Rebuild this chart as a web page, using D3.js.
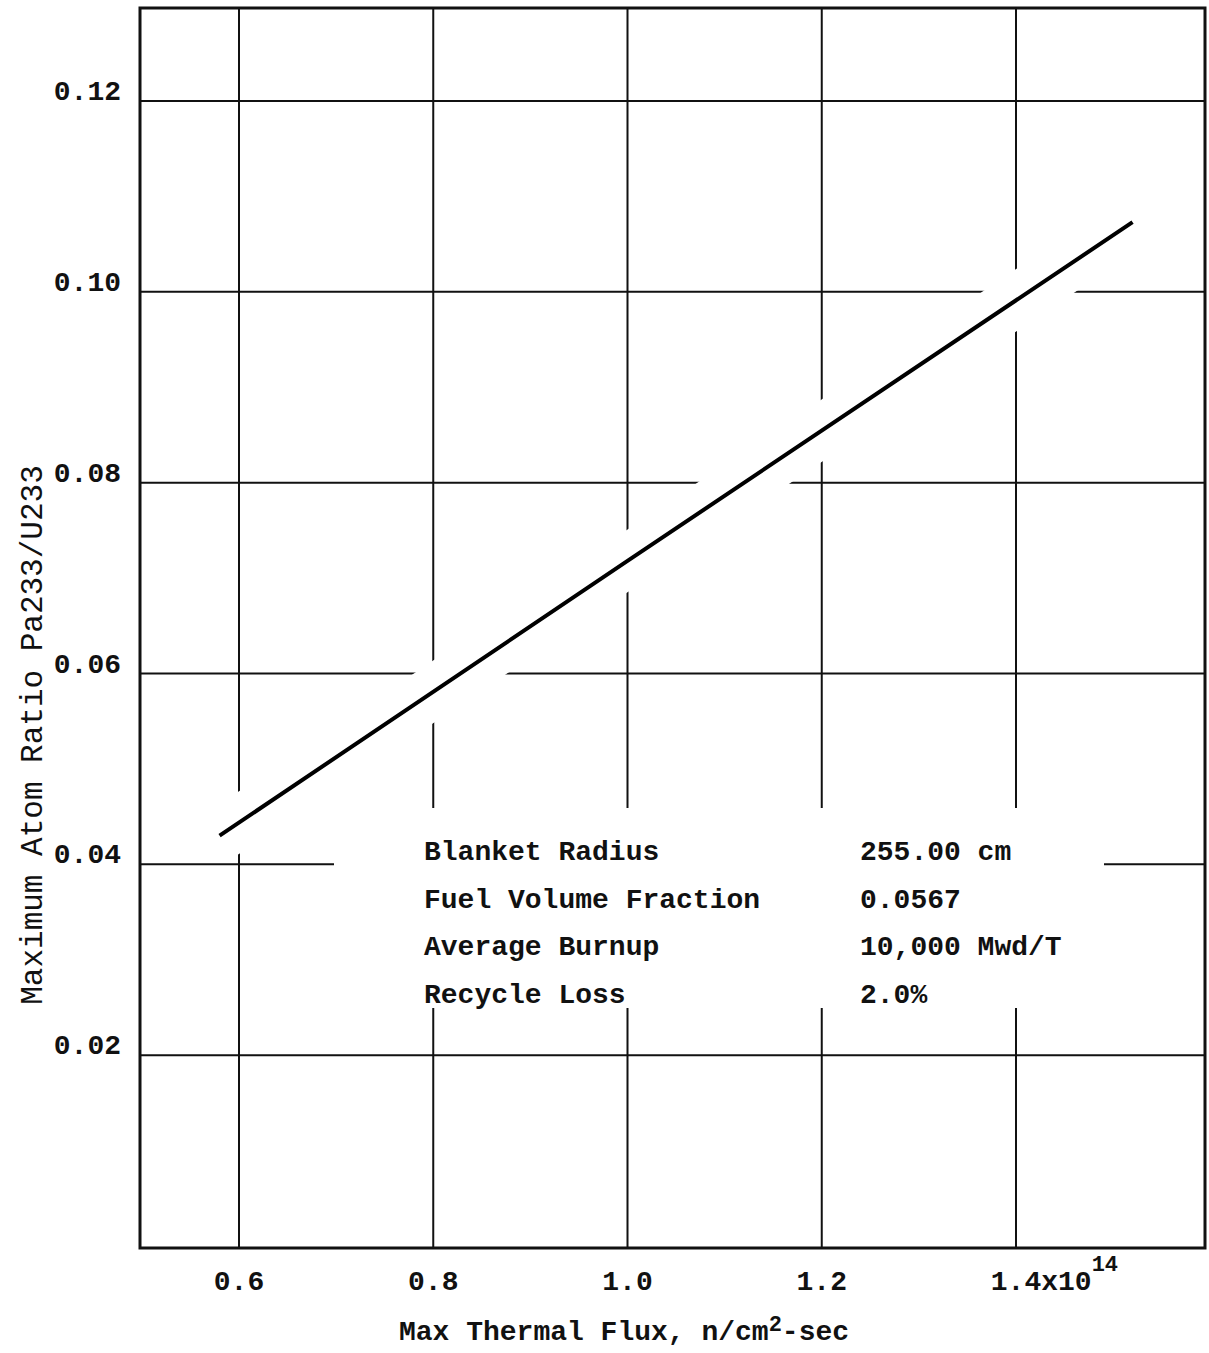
<!DOCTYPE html>
<html>
<head>
<meta charset="utf-8">
<script src="https://cdn.jsdelivr.net/npm/d3@7"></script>
<style>
  body { margin: 0; background: #fff; }
  text { font-family: "Liberation Mono", "DejaVu Sans Mono", monospace; fill: #111; }
</style>
</head>
<body>
<div id="chart"></div>
<script>
// chart data
var fluxValues = [0.58, 1.0, 1.52];          // x 10^14 n/cm2-sec
var ratioValues = [0.0430, 0.0718, 0.1073];  // Pa233/U233
var xTicks = [0.6, 0.8, 1.0, 1.2, 1.4];
var xTickLabels = ["0.6", "0.8", "1.0", "1.2", "1.4"];
var yTicks = [0.02, 0.04, 0.06, 0.08, 0.10, 0.12];
var yTickLabels = ["0.02", "0.04", "0.06", "0.08", "0.10", "0.12"];
var noteNames = ["Blanket Radius", "Fuel Volume Fraction", "Average Burnup", "Recycle Loss"];
var noteValues = ["255.00 cm", "0.0567", "10,000 Mwd/T", "2.0%"];

var width = 1209,
    height = 1353;

var svg = d3.select("#chart")
  .append("svg")
  .attr("width", width)
  .attr("height", height);

var x = d3.scaleLinear().domain([0.6, 1.4]).range([239, 1016]);
var y = d3.scaleLinear().domain([0, 0.12]).range([1246, 101]);

var xMin = x.invert(140), xMax = x.invert(1205),
    yMin = y.invert(1248), yMax = y.invert(8);

// grid lines
var grid = svg.append("g").attr("class", "grid");
grid.selectAll("line.v")
  .data(xTicks).enter()
  .append("line")
  .attr("x1", function(d) { return x(d); })
  .attr("x2", function(d) { return x(d); })
  .attr("y1", y(yMin))
  .attr("y2", y(yMax))
  .attr("stroke", "#111")
  .attr("stroke-width", 2);
grid.selectAll("line.h")
  .data(yTicks).enter()
  .append("line")
  .attr("x1", x(xMin))
  .attr("x2", x(xMax))
  .attr("y1", function(d) { return y(d); })
  .attr("y2", function(d) { return y(d); })
  .attr("stroke", "#111")
  .attr("stroke-width", 2);

var line = d3.line()
  .x(function(d, i) { return x(fluxValues[i]); })
  .y(function(d, i) { return y(ratioValues[i]); });

// white gaps where the curve and the note cross the grid
svg.append("path")
  .datum(ratioValues)
  .attr("d", line)
  .attr("fill", "none")
  .attr("stroke", "#fff")
  .attr("stroke-width", 52)
  .attr("stroke-linecap", "round");

svg.append("rect")
  .attr("x", 334)
  .attr("y", 808)
  .attr("width", 770)
  .attr("height", 200)
  .attr("fill", "#fff");

// frame
svg.append("rect")
  .attr("x", x(xMin))
  .attr("y", y(yMax))
  .attr("width", x(xMax) - x(xMin))
  .attr("height", y(yMin) - y(yMax))
  .attr("fill", "none")
  .attr("stroke", "#111")
  .attr("stroke-width", 3);

// the curve
svg.append("path")
  .datum(ratioValues)
  .attr("d", line)
  .attr("fill", "none")
  .attr("stroke", "#000")
  .attr("stroke-width", 4);

// y tick labels
svg.append("g")
  .selectAll("text")
  .data(yTicks).enter()
  .append("text")
  .attr("x", 121)
  .attr("y", function(d) { return y(d) - 1; })
  .attr("text-anchor", "end")
  .attr("font-size", 28)
  .attr("font-weight", "bold")
  .text(function(d, i) { return yTickLabels[i]; });

// x tick labels
var xl = svg.append("g")
  .selectAll("text")
  .data(xTicks).enter()
  .append("text")
  .attr("y", 1290)
  .attr("font-size", 28)
  .attr("font-weight", "bold");

xl.attr("x", function(d, i) { return x(d) - xTickLabels[i].length * 8.4; })
  .text(function(d, i) { return xTickLabels[i]; });

xl.filter(function(d, i) { return i === xTicks.length - 1; })
  .each(function() {
    var t = d3.select(this);
    t.append("tspan").text("x10");
    t.append("tspan").attr("dy", -19).attr("font-size", 22).text("14");
  });

// axis titles
var xt = svg.append("text")
  .attr("x", 624)
  .attr("y", 1340)
  .attr("text-anchor", "middle")
  .attr("font-size", 28)
  .attr("font-weight", "bold");
xt.append("tspan").text("Max Thermal Flux, n/cm");
xt.append("tspan").attr("dy", -9).attr("font-size", 22).text("2");
xt.append("tspan").attr("dy", 9).text("-sec");

svg.append("text")
  .attr("transform", "translate(42,735) rotate(-90)")
  .attr("text-anchor", "middle")
  .attr("font-size", 31)
  .text("Maximum Atom Ratio Pa233/U233");

// parameter note
var notes = svg.append("g").attr("class", "notes");
notes.selectAll("text.name")
  .data(noteNames).enter()
  .append("text")
  .attr("x", 424)
  .attr("y", function(d, i) { return 860 + i * 47.7; })
  .attr("font-size", 28)
  .attr("font-weight", "bold")
  .text(function(d) { return d; });
notes.selectAll("text.val")
  .data(noteValues).enter()
  .append("text")
  .attr("x", 860)
  .attr("y", function(d, i) { return 860 + i * 47.7; })
  .attr("font-size", 28)
  .attr("font-weight", "bold")
  .text(function(d) { return d; });
</script>
</body>
</html>
